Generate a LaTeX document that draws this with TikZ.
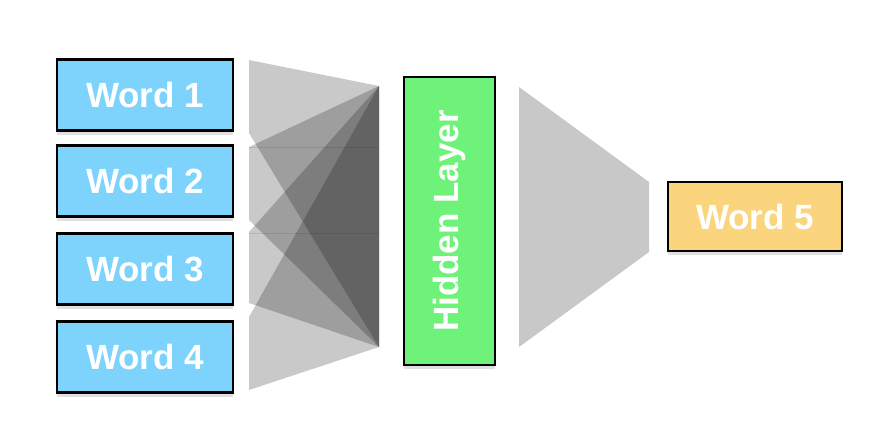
\documentclass[tikz,border=0pt]{standalone}
\usepackage{fontspec}
\setmainfont{Liberation Sans}
\usetikzlibrary{shadows}
\definecolor{wordblue}{HTML}{7DD3FB}
\definecolor{hidgreen}{HTML}{6FF279}
\definecolor{outorange}{HTML}{FBD57E}
\definecolor{fangray}{HTML}{C8C8C8}
\tikzset{
  wordbox/.style={draw=black, line width=2.6pt, fill=wordblue, minimum width=176pt, minimum height=71pt,
    inner sep=0pt, text=white, font=\fontsize{35}{40}\selectfont\bfseries,
    drop shadow={shadow xshift=0pt, shadow yshift=-4pt, opacity=0.12, fill=black}},
  fan/.style={fill=black, fill opacity=0.21, draw=none},
  seam/.style={draw=black, opacity=0.1, line width=0.8pt}
}
\begin{document}
\begin{tikzpicture}[x=1pt,y=-1pt]
\useasboundingbox (0,0) rectangle (883,431);
% input fans
\coordinate (at) at (379,86);
\coordinate (ab) at (379,347);
\coordinate (a1) at (249,60);
\coordinate (b1) at (249,133);
\coordinate (a2) at (249,147);
\coordinate (b2) at (249,220);
\coordinate (a3) at (249,232);
\coordinate (b3) at (249,303);
\coordinate (a4) at (249,317);
\coordinate (b4) at (249,390);
\fill[fan] (a1) -- (at) -- (ab) -- (b1) -- cycle;
\fill[fan] (a2) -- (at) -- (ab) -- (b2) -- cycle;
\fill[fan] (a3) -- (at) -- (ab) -- (b3) -- cycle;
\fill[fan] (a4) -- (at) -- (ab) -- (b4) -- cycle;
\coordinate (s1) at (379,147);
\coordinate (s2) at (379,233);
\coordinate (s0) at (249,233);
\draw[seam] (a2) -- (s1);
\draw[seam] (s0) -- (s2);
% word boxes
\node[wordbox] (w1) at (145,95) {Word 1};
\node[wordbox] (w2) at (145,181) {Word 2};
\node[wordbox] (w3) at (145,269) {Word 3};
\node[wordbox] (w4) at (145,357) {Word 4};
% hidden layer
\node[wordbox, fill=hidgreen, minimum width=91pt, minimum height=288pt] (h) at (449.5,221) {};
\node[text=white, font=\fontsize{35}{40}\selectfont\bfseries, rotate=90] (ht) at (h.center) {Hidden Layer};
% output fan
\coordinate (r1) at (519,87);
\coordinate (r2) at (649,182);
\coordinate (r3) at (649,252);
\coordinate (r4) at (519,347);
\fill[fangray] (r1) -- (r2) -- (r3) -- (r4) -- cycle;
% output word
\node[wordbox, fill=outorange, minimum width=174pt, minimum height=69pt] (w5) at (755,216.5) {Word 5};
\end{tikzpicture}
\end{document}
